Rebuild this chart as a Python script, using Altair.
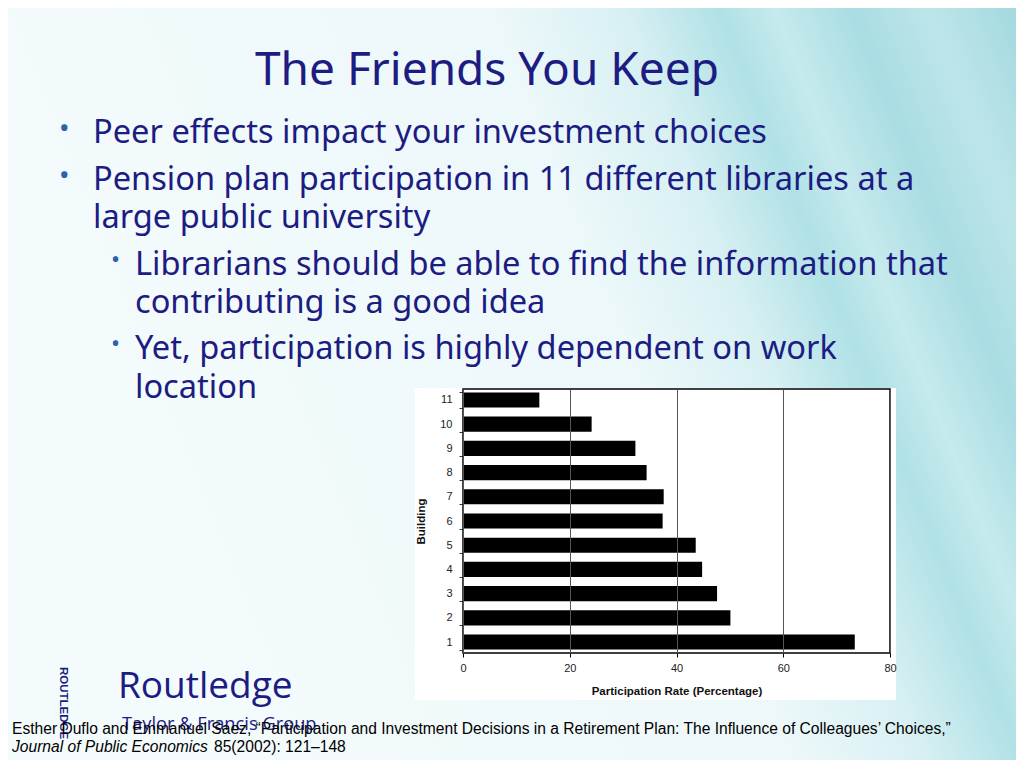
import altair as alt
import pandas as pd

# ---------------- data ----------------
buildings = ["1", "2", "3", "4", "5", "6", "7", "8", "9", "10", "11"]
rates = [73.4, 50.1, 47.6, 44.8, 43.6, 37.4, 37.6, 34.4, 32.3, 24.1, 14.3]
x_ticks = [0, 20, 40, 60, 80]

slide_title = "The Friends You Keep"
bullet_lines = [
    "Peer effects impact your investment choices",
    "Pension plan participation in 11 different libraries at a",
    "large public university",
]
sub_lines = [
    "Librarians should be able to find the information that",
    "contributing is a good idea",
    "Yet, participation is highly dependent on work",
    "location",
]
cite1 = "Esther Duflo and Emmanuel Saez, \u201cParticipation and Investment Decisions in a Retirement Plan: The Influence of Colleagues\u2019 Choices,\u201d"
cite2_italic = "Journal of Public Economics"
cite2_rest = "85(2002): 121\u2013148"

df = pd.DataFrame({"Building": buildings, "Rate": rates})
one = pd.DataFrame({"k": [0]})

# plot-area origin in page coordinates
OX, OY = 463, 389
W, H = 427, 264

NAVY = "#1c1c82"
BULLET = "#2a62ad"


def txt(s, px, py, size, color=NAVY, font="Noto Sans", weight="normal",
        style="normal", align="left", angle=0, baseline="alphabetic"):
    return alt.Chart(one).mark_text(
        text=s, align=align, baseline=baseline, fontSize=size, font=font,
        color=color, fontWeight=weight, fontStyle=style, angle=angle,
    ).encode(x=alt.value(px - OX), y=alt.value(py - OY))


def box(x1, y1, x2, y2, **kw):
    return alt.Chart(one).mark_rect(**kw).encode(
        x=alt.value(x1 - OX), x2=alt.value(x2 - OX),
        y=alt.value(y1 - OY), y2=alt.value(y2 - OY))


bg = box(8, 8, 1016, 760, color=alt.LinearGradient(
    gradient="linear", x1=0, y1=0.3, x2=1, y2=0,
    stops=[
        alt.GradientStop(offset=0.0, color="#f4fbfc"),
        alt.GradientStop(offset=0.52, color="#edf8fa"),
        alt.GradientStop(offset=0.64, color="#d8f0f3"),
        alt.GradientStop(offset=0.73, color="#b0e1e6"),
        alt.GradientStop(offset=0.78, color="#c6eaed"),
        alt.GradientStop(offset=0.85, color="#a9dde3"),
        alt.GradientStop(offset=0.92, color="#bde5e9"),
        alt.GradientStop(offset=1.0, color="#a3d9df"),
    ]))

white = box(415, 388, 896, 700, color="white")

bars = alt.Chart(df).mark_bar(color="black").encode(
    x=alt.X("Rate:Q",
            scale=alt.Scale(domain=[0, 80], nice=False),
            axis=alt.Axis(values=x_ticks, grid=True, gridColor="#555555",
                          gridWidth=1, domain=False, tickColor="black",
                          tickSize=4, labelFont="Liberation Sans",
                          labelFontSize=11, labelColor="#222222",
                          labelPadding=5, labelFlush=False,
                          title="Participation Rate (Percentage)",
                          titleFont="Liberation Sans", titleFontSize=11.5,
                          titleFontWeight="bold", titleColor="#111111",
                          titlePadding=12, zindex=1)),
    y=alt.Y("Building:N", sort=list(reversed(buildings)),
            scale=alt.Scale(paddingInner=0.375, paddingOuter=0.14),
            axis=alt.Axis(tickBand="extent", domain=False, tickColor="#333333",
                          tickSize=4, labelFont="Liberation Sans",
                          labelFontSize=11, labelColor="#222222",
                          labelPadding=7, labelAngle=0,
                          title="Building", titleFont="Liberation Sans",
                          titleFontSize=11.5, titleFontWeight="bold",
                          titleColor="#111111", titlePadding=13, zindex=1)),
)

frame = alt.Chart(one).mark_rect(fillOpacity=0, stroke="black", strokeWidth=1.5).encode(
    x=alt.value(0), x2=alt.value(W), y=alt.value(0), y2=alt.value(H))

layers = [bg, white, bars, frame]

# title
layers.append(txt(slide_title, 487, 85, 46, align="center"))

# bullets
main_y = [143, 190, 228]
layers.append(txt("\u2022", 59, 138, 28, color=BULLET))
layers.append(txt("\u2022", 59, 185, 28, color=BULLET))
for s, y in zip(bullet_lines, main_y):
    layers.append(txt(s, 93, y, 32.6))

sub_y = [275, 313, 359, 398]
layers.append(txt("\u2022", 111, 268, 24, color=BULLET))
layers.append(txt("\u2022", 111, 352, 24, color=BULLET))
for s, y in zip(sub_lines, sub_y):
    layers.append(txt(s, 135, y, 32.6))

# Routledge logo text
layers.append(txt("Routledge", 118, 698, 37, font="Open Sans"))
layers.append(txt("Taylor & Francis Group", 122, 730, 18.3, font="Open Sans"))
layers.append(txt("ROUTLEDGE", 63, 667, 11.5, font="Liberation Sans", weight="bold",
                  angle=90, baseline="middle"))

# citation
layers.append(txt(cite1, 12, 734, 15.6, color="black", font="Liberation Sans"))
layers.append(txt(cite2_italic, 12, 752, 15.6, color="black", font="Liberation Sans",
                  style="italic"))
layers.append(txt(cite2_rest, 214, 752, 15.6, color="black", font="Liberation Sans"))

chart = alt.layer(*layers).properties(
    width=W, height=H,
    autosize=alt.AutoSizeParams(type="none"),
    padding={"left": OX - 8, "top": OY - 8, "right": 1016 - OX - W,
             "bottom": 760 - OY - H},
).configure_view(stroke=None)

chart.save("out.html", embed_options={"renderer": "svg", "actions": False})
